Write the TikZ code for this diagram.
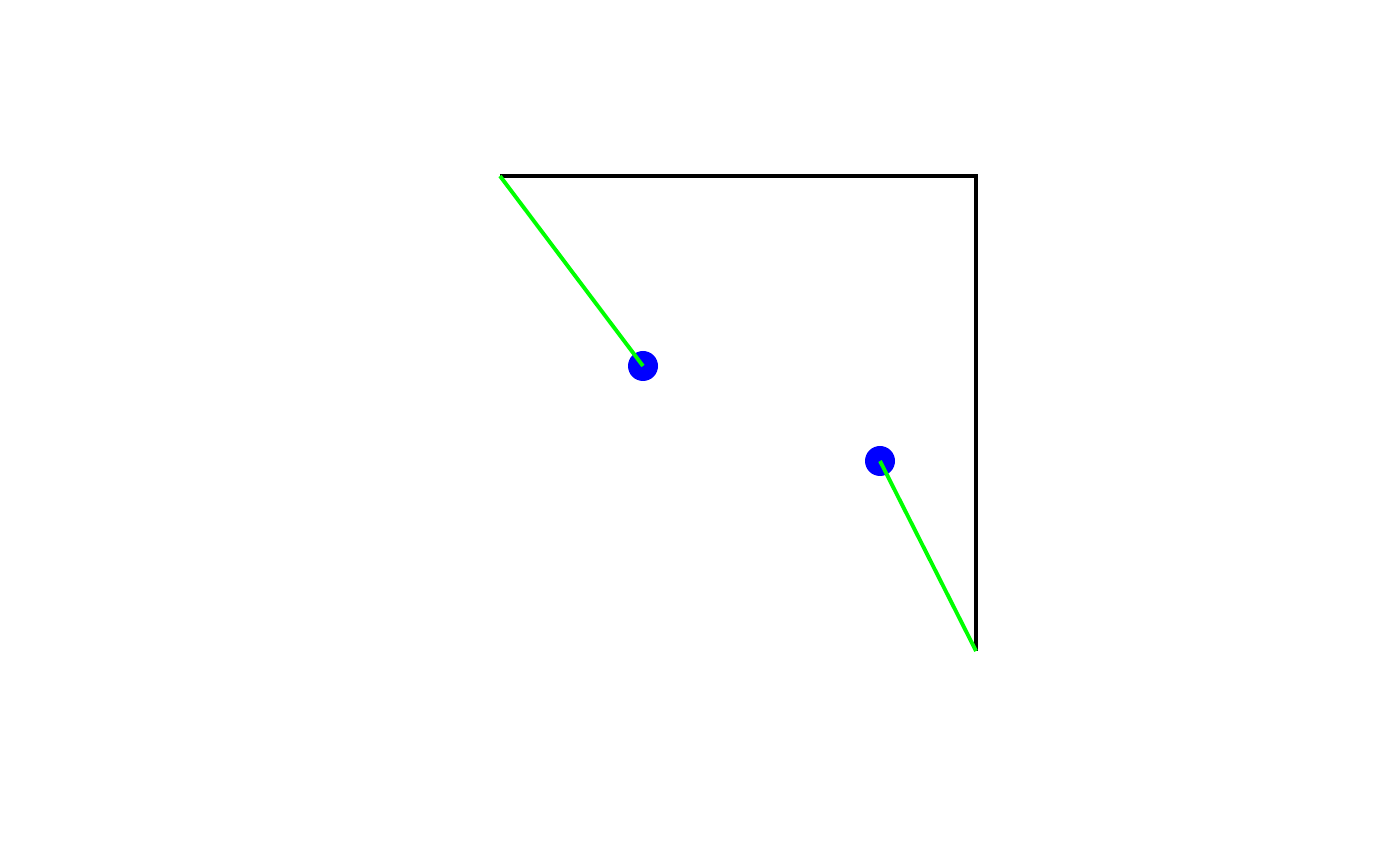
\documentclass[tikz,border=0pt]{standalone}
\usepackage{tikz}
\usetikzlibrary{positioning}

\tikzset{
    dotpt/.style={circle, fill=blue, minimum size=0.30cm, inner sep=0pt},
    track/.style={line width=1.1pt, black},
    link/.style={line width=1.1pt, green},
}

\begin{document}
\begin{tikzpicture}
    \useasboundingbox (0,0) rectangle (14,8.66);

    \coordinate (a) at (5.00,6.90);
    \coordinate (b) at (9.76,6.90);
    \coordinate (c) at (9.76,2.15);

    \node[dotpt] (p) at (6.43,5.00) {};
    \node[dotpt] (q) at (8.80,4.05) {};

    % spezzata
    \draw[track] (a) -- (b) -- (c);

    % collegamenti
    \draw[link] (a) -- (p.center);
    \draw[link] (q.center) -- (c);

\end{tikzpicture}
\end{document}
